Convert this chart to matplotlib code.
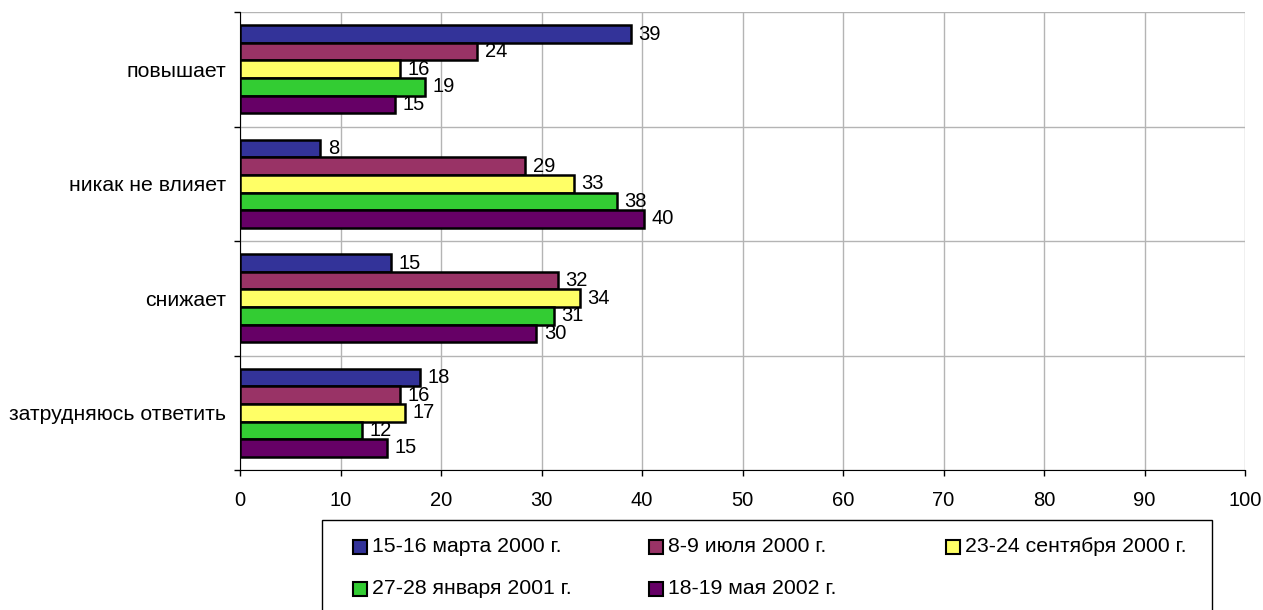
import numpy as np
import matplotlib.pyplot as plt
from matplotlib.ticker import FixedLocator
from matplotlib.patches import Rectangle

plt.rcParams['font.family'] = ['Liberation Sans', 'DejaVu Sans']

categories = ['повышает', 'никак не влияет', 'снижает', 'затрудняюсь ответить']
series = ['15-16 марта 2000 г.', '8-9 июля 2000 г.', '23-24 сентября 2000 г.',
          '27-28 января 2001 г.', '18-19 мая 2002 г.']
# bar lengths as drawn, and the numbers printed next to them
mar2000 = [38.9, 7.96, 15.0, 17.9]
jul2000 = [23.6, 28.4, 31.6, 15.9]
sep2000 = [15.9, 33.2, 33.8, 16.4]
jan2001 = [18.4, 37.5, 31.2, 12.1]
may2002 = [15.4, 40.2, 29.5, 14.6]
labels_mar2000 = [39, 8, 15, 18]
labels_jul2000 = [24, 29, 32, 16]
labels_sep2000 = [16, 33, 34, 17]
labels_jan2001 = [19, 38, 31, 12]
labels_may2002 = [15, 40, 30, 15]

values = [mar2000, jul2000, sep2000, jan2001, may2002]
labels = [labels_mar2000, labels_jul2000, labels_sep2000, labels_jan2001, labels_may2002]
colors = ['#333399', '#993366', '#FFFF66', '#33CC33', '#660066']

W, H = 1263, 610
fs = 14.5      # numbers
fs_txt = 15.3  # cyrillic text
fig = plt.figure(figsize=(W/100, H/100), dpi=100)
ax = fig.add_axes([240/W, 1-470/H, (1245-240)/W, (470-12)/H])

y = np.arange(len(categories))
h = 0.153
for i in range(len(series)):
    pos = y - 2*h + i*h
    b = ax.barh(pos, values[i], height=h, color=colors[i], edgecolor='black',
                linewidth=1.8, zorder=3)
    ax.bar_label(b, labels=[str(v) for v in labels[i]], padding=5.5, fontsize=fs, zorder=4)

ax.set_xlim(0, 100)
ax.set_ylim(3.5, -0.5)
ax.set_xticks(np.arange(0, 101, 10))
ax.tick_params(axis='x', labelsize=fs, length=4, width=1, color='black', pad=11)
ax.set_yticks(y)
ax.set_yticklabels(categories, fontsize=fs_txt)
ax.tick_params(axis='y', which='major', length=0, pad=10)
ax.yaxis.set_minor_locator(FixedLocator([-0.5, 0.5, 1.5, 2.5, 3.5]))
ax.tick_params(axis='y', which='minor', length=4, width=1, color='black')
ax.grid(axis='x', which='major', color='#b4b4b4', linewidth=1, zorder=0)
ax.grid(axis='y', which='minor', color='#b4b4b4', linewidth=1, zorder=0)
ax.spines['top'].set_visible(False)
ax.spines['right'].set_visible(False)
ax.spines['left'].set_color('black')
ax.spines['bottom'].set_color('black')

# legend box in the Excel layout: 3 columns, filled row by row
fig.add_artist(Rectangle((322/W, 1-640/H), (1212-322)/W, 120/H, transform=fig.transFigure,
                         facecolor='white', edgecolor='black', linewidth=1))
col_x = [353, 649, 946]
row_y = [547, 589]
sq = 14
for i, name in enumerate(series):
    cx = col_x[i % 3]
    cy = row_y[i // 3]
    fig.add_artist(Rectangle((cx/W, 1-(cy+sq/2)/H), sq/W, sq/H, transform=fig.transFigure,
                             facecolor=colors[i], edgecolor='black', linewidth=1.5))
    fig.text((cx+sq+5)/W, 1-cy/H, name, fontsize=fs_txt, va='center', ha='left')

fig.savefig('out.png', dpi=100)
